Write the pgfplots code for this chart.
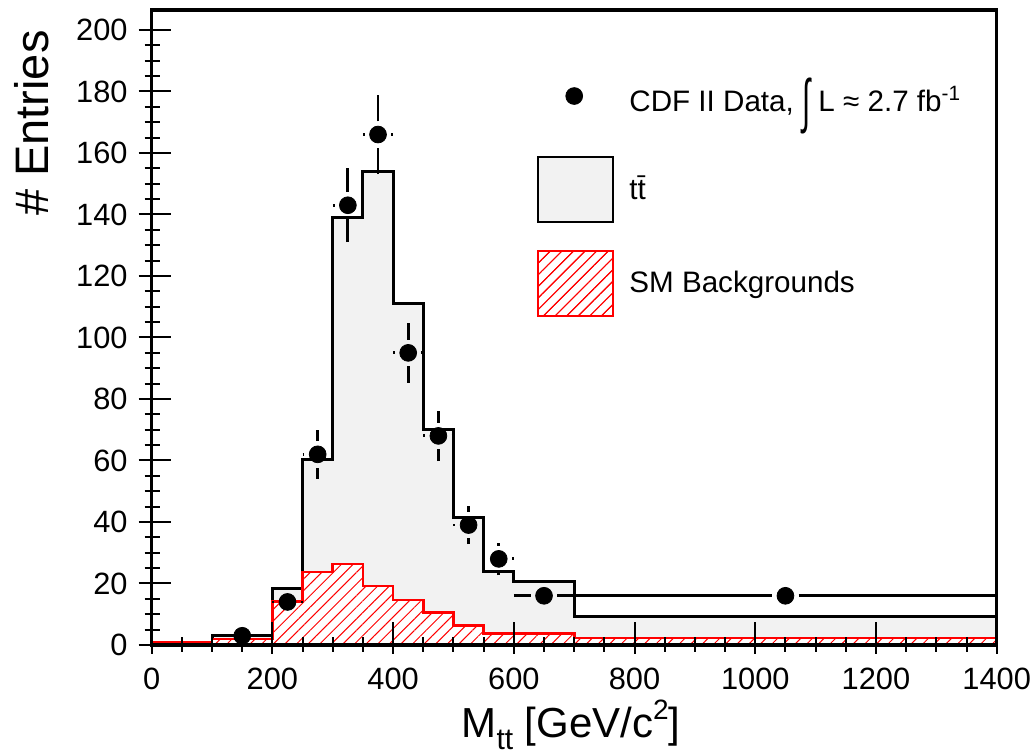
\documentclass[border=0pt]{standalone}
\usepackage{fontspec}
\setmainfont{Liberation Sans}
\usepackage{pgfplots}
\pgfplotsset{compat=1.18}
\usetikzlibrary{patterns.meta}

\begin{document}
\begin{tikzpicture}
\useasboundingbox (0pt,0pt) rectangle (517.5pt,377.5pt);
\begin{axis}[
  at={(75.85pt,55pt)}, anchor=south west,
  scale only axis, width=422.5pt, height=317.5pt,
  xmin=0, xmax=1400, ymin=0, ymax=206.5,
  xtick={0,200,...,1400}, ytick={0,20,...,200},
  minor x tick num=3, minor y tick num=3,
  axis on top,
  axis line style={line width=1.7pt},
  tick pos=left, tick align=inside,
  tick style={line width=1pt, black},
  major tick length=16pt, minor tick length=7.5pt,
  every major x tick/.append style={yshift=-4.5pt},
  every minor x tick/.append style={yshift=-3.5pt},
  every major y tick/.append style={xshift=-6.5pt},
  every minor y tick/.append style={xshift=-3.5pt},
  tick label style={font=\fontsize{15.4}{16}\selectfont},
  xticklabel style={anchor=north, inner sep=0pt, yshift=-11.5pt},
  yticklabel style={anchor=east, inner sep=0pt, xshift=-11.85pt},
  /pgf/number format/assume math mode=true,
  /pgf/number format/1000 sep={},
  legend cell align=left,
  legend style={draw=none, fill=none, inner sep=0pt, outer sep=0pt,
    row sep=13.5pt, column sep=7.5pt,
    at={(0.456,0.9157)}, anchor=north west,
    nodes={inner sep=0pt},
    font=\fontsize{14.8}{16}\selectfont},
]
% data legend entry first
\addlegendimage{legend image code/.code={
  \path[draw=none, fill=none] (0pt,-16.25pt) rectangle (37.5pt,16.25pt);
  \fill[black] (18pt,0pt) circle (4.2pt);}}
\addlegendentry{CDF II Data, \raisebox{-0.33em}{\scalebox{1}[2]{∫}} L ≈ 2.7 fb\textsuperscript{-1}}

% ttbar + backgrounds (total)
\addplot[const plot, fill=gray!10, draw=black, line width=1.5pt,
  legend image code/.code={
    \draw[fill=gray!10, line width=1.2pt] (0pt,-16.25pt) rectangle (37.5pt,16.25pt);}]
coordinates {
  (0,0.8) (100,3.1) (200,18.4) (250,60.2) (300,138.9) (350,154.0)
  (400,111.1) (450,70.0) (500,41.3) (550,23.9) (600,20.7) (700,9.2) (1400,9.2)
} \closedcycle;
\addlegendentry{t\={t}}

% SM backgrounds
\addplot[const plot, draw=red, line width=1.3pt, fill=white,
  postaction={pattern={Lines[angle=45, distance=4.1pt, line width=0.5pt]}, pattern color=red},
  legend image code/.code={
    \draw[red, line width=1.2pt, fill=white,
      postaction={pattern={Lines[angle=45, distance=4.1pt, line width=0.5pt]}, pattern color=red}]
      (0pt,-16.25pt) rectangle (37.5pt,16.25pt);}]
coordinates {
  (0,0.8) (100,2.0) (200,14.2) (250,23.7) (300,26.3) (350,19.2)
  (400,14.6) (450,10.6) (500,6.3) (550,3.7) (600,3.7) (700,2.3) (1400,2.3)
} \closedcycle;
\addlegendentry{SM Backgrounds}

% error bars (ROOT style, gap around the marker)
\addplot[black, line width=1.4pt, unbounded coords=jump, forget plot] coordinates {
  (100,3) (128,3) (0,nan) (172,3) (200,3) (0,nan)
  (200,14) (203,14) (0,nan) (247,14) (250,14) (0,nan)
  (250,62) (253,62) (0,nan) (297,62) (300,62) (0,nan) (275,66.3) (275,69.9) (0,nan) (275,54.1) (275,57.7) (0,nan)
  (300,143) (303,143) (0,nan) (347,143) (350,143) (0,nan) (325,147.3) (325,155) (0,nan) (325,131) (325,138.7) (0,nan)
  (350,166) (353,166) (0,nan) (397,166) (400,166) (0,nan) (375,170.3) (375,178.9) (0,nan) (375,153.1) (375,161.7) (0,nan)
  (400,95) (403,95) (0,nan) (447,95) (450,95) (0,nan) (425,99.3) (425,104.7) (0,nan) (425,85.3) (425,90.7) (0,nan)
  (450,68) (453,68) (0,nan) (497,68) (500,68) (0,nan) (475,72.3) (475,76.2) (0,nan) (475,59.8) (475,63.7) (0,nan)
  (500,39) (503,39) (0,nan) (547,39) (550,39) (0,nan) (525,43.3) (525,45.2) (0,nan) (525,32.8) (525,34.7) (0,nan)
  (550,28) (553,28) (0,nan) (597,28) (600,28) (0,nan) (575,32.3) (575,33.3) (0,nan) (575,22.7) (575,23.7) (0,nan)
  (600,16) (628,16) (0,nan) (672,16) (700,16) (0,nan)
  (700,16) (1028,16) (0,nan) (1072,16) (1400,16)
};

% data points
\addplot[only marks, mark=*, mark size=4.2pt, mark options={fill=black, draw=black}, forget plot]
coordinates {
  (150,3) (225,14) (275,62) (325,143) (375,166) (425,95)
  (475,68) (525,39) (575,28) (650,16) (1050,16)
};
\end{axis}

% axis titles
\node[rotate=90, anchor=base east, inner sep=0pt, font=\fontsize{23.5}{24}\selectfont]
  at (24pt,362.5pt) {\# Entries};
\node[anchor=base, inner sep=0pt, font=\fontsize{21}{22}\selectfont]
  at (285.5pt,8.5pt) {M\raisebox{-0.28em}{\fontsize{15}{15}\selectfont tt} [GeV/c\raisebox{0.45em}{\fontsize{14}{14}\selectfont 2}]};
\end{tikzpicture}
\end{document}
